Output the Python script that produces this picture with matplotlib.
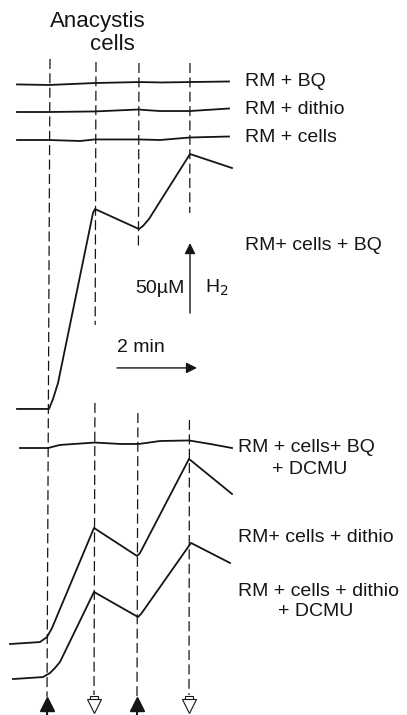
import matplotlib
matplotlib.use("Agg")
import matplotlib.pyplot as plt

# time in min (0 = addition of cells), signal = pen position in uM H2
t_bq = [-0.8, 0.0, 1.15, 2.25, 2.8, 3.525, 4.5]
h_bq = [450.4, 450.0, 451.4, 452.1, 451.8, 452.1, 452.5]

t_dithio = [-0.8, 0.0, 1.15, 2.25, 2.4, 2.775, 3.525, 4.5]
h_dithio = [430.7, 430.7, 431.1, 432.5, 432.1, 431.4, 431.4, 433.2]

t_cells = [-0.8, 0.0, 0.775, 1.15, 2.25, 2.775, 3.525, 4.5]
h_cells = [410.7, 410.7, 410.0, 411.1, 411.1, 410.7, 412.5, 413.2]

t_cells_bq = [-0.8, 0.0, 0.1, 0.225, 1.1, 1.15, 2.25, 2.35, 2.5, 3.525, 4.575]
h_cells_bq = [218.6, 218.6, 225.7, 237.1, 358.6, 361.4, 347.1, 349.3, 354.3, 400.7, 390.7]

t_bq_dcmu = [-0.725, -0.025, 0.275, 1.15, 1.775, 2.25, 2.775, 3.5, 4.025, 4.575]
h_bq_dcmu = [190.7, 190.7, 192.9, 194.6, 193.6, 193.6, 195.7, 196.1, 193.6, 190.7]

t_cells_dithio = [-0.975, -0.225, -0.05, 0.075, 1.125, 2.2, 2.275, 3.5, 4.575]
h_cells_dithio = [50.7, 52.1, 55.7, 62.1, 133.6, 113.6, 115.7, 182.9, 157.9]

t_dithio_dcmu = [-0.9, -0.15, 0.025, 0.15, 0.275, 1.125, 2.225, 2.3, 3.55, 4.525]
h_dithio_dcmu = [25.7, 27.1, 30.0, 33.6, 37.9, 87.9, 70.0, 72.1, 122.9, 108.6]

# additions: cells (filled) and light off (open), time of each dashed line
add_top = [0.025, 1.175, 2.25, 3.525]
add_bottom = [-0.05, 1.125, 2.2, 3.5]
add_kind = ["on", "off", "on", "off"]
# visible stretches of each dashed line (uM)
add_spans = [
    [(468.6, 12.9)],
    [(466.4, 278.6), (222.9, 14.3)],
    [(465.7, 334.3), (215.7, 12.9)],
    [(465.7, 358.6), (210.7, 14.3)],
]

W, H = 407, 715
ink = "#151515"
fig = plt.figure(figsize=(W / 100, H / 100), dpi=100)
ax = fig.add_axes([0, 0, 1, 1])
ax.set_xlim(-1.225, 8.95)
ax.set_ylim(0, 510.7)
ax.axis("off")

for t0, t1, spans in zip(add_top, add_bottom, add_spans):
    for a, b in spans:
        fa = (468.6 - a) / (468.6 - 12.9)
        fb = (468.6 - b) / (468.6 - 12.9)
        ax.plot([t0 + (t1 - t0) * fa, t0 + (t1 - t0) * fb], [a, b],
                color=ink, lw=0.9, dashes=(8, 3.5))

for t, kind in zip(add_bottom, add_kind):
    if kind == "on":
        ax.plot(t, 7.5, marker="^", ms=10, color=ink, mec=ink)
        ax.plot([t, t], [0, 5], color=ink, lw=1.5)
    else:
        ax.plot(t, 11.0, marker="s", ms=6, mfc="white", mec=ink, mew=0.8)
        ax.plot(t, 6.5, marker="v", ms=10, mfc="white", mec=ink, mew=0.8)

traces = [(t_bq, h_bq), (t_dithio, h_dithio), (t_cells, h_cells),
          (t_cells_bq, h_cells_bq), (t_bq_dcmu, h_bq_dcmu),
          (t_cells_dithio, h_cells_dithio), (t_dithio_dcmu, h_dithio_dcmu)]
for t, h in traces:
    ax.plot(t, h, color=ink, lw=1.3, solid_joinstyle="round")

# scale bars: 50 uM and 2 min
ax.annotate("", xy=(3.525, 337.1), xytext=(3.525, 287.1),
            arrowprops=dict(arrowstyle="-|>", color=ink, lw=1.0,
                            mutation_scale=16, shrinkA=0, shrinkB=0))
ax.annotate("", xy=(3.7, 247.9), xytext=(1.7, 247.9),
            arrowprops=dict(arrowstyle="-|>", color=ink, lw=1.0,
                            mutation_scale=16, shrinkA=0, shrinkB=0))

fs = 14


def label(x, y, s, ha="left", size=fs):
    fig.text(x / W, 1 - y / H, s, ha=ha, va="center", fontsize=size,
             color=ink, family="Liberation Sans")


label(98, 21, "Anacystis", ha="center", size=16)
label(112, 45, "cells", ha="center", size=16)
label(245, 82, "RM + BQ")
label(245, 110, "RM + dithio")
label(245, 137, "RM + cells")
label(245, 245, "RM+ cells + BQ")
label(185, 288, "50µM", ha="right")
label(205, 288, "H$_2$")
label(117, 348, "2 min")
label(238, 447, "RM + cells+ BQ")
label(272, 469, "+ DCMU")
label(238, 537, "RM+ cells + dithio")
label(238, 591, "RM + cells + dithio")
label(278, 612, "+ DCMU")

fig.savefig("out.png", dpi=100)
